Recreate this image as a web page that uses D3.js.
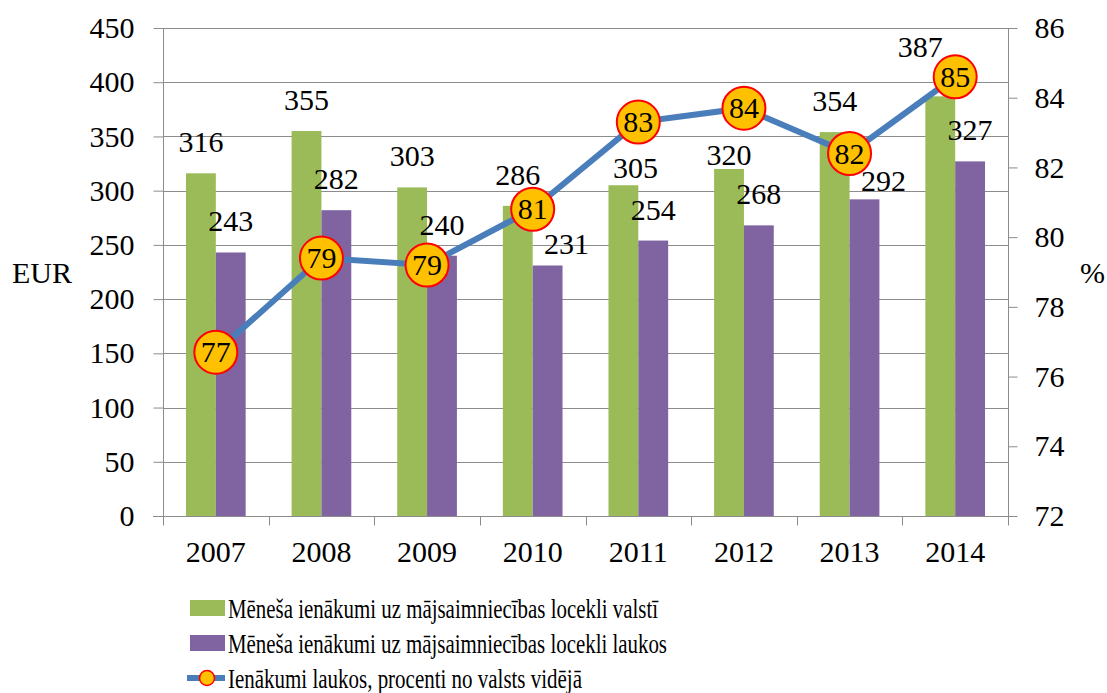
<!DOCTYPE html>
<html>
<head>
<meta charset="utf-8">
<script src="https://cdn.jsdelivr.net/npm/d3@7"></script>
<style>
  body { margin: 0; background: #fff; }
  text { font-family: 'Liberation Serif', serif !important; fill: #000; }
  .grid line { stroke: #8c8c8c; stroke-width: 1; }
  .axis path, .axis line { stroke: #8c8c8c; }
</style>
</head>
<body>
<svg id="chart" width="1107" height="693"></svg>
<script>
(function(){

  var years = ['2007', '2008', '2009', '2010', '2011', '2012', '2013', '2014'];
  var national = [316, 355, 303, 286, 305, 320, 354, 387];
  var rural = [243, 282, 240, 231, 254, 268, 292, 327];
  var percent = [76.7, 79.4, 79.2, 80.8, 83.3, 83.7, 82.4, 84.6];
  var percentLabels = ['77', '79', '79', '81', '83', '84', '82', '85'];
  var leftTicks = [0, 50, 100, 150, 200, 250, 300, 350, 400, 450];
  var rightTicks = [72, 74, 76, 78, 80, 82, 84, 86];
  var legendNames = [
    'Mēneša ienākumi uz mājsaimniecības locekli valstī',
    'Mēneša ienākumi uz mājsaimniecības locekli laukos',
    'Ienākumi laukos, procenti no valsts vidējā'
  ];

  // labels that were dragged aside in the original chart: [dx, dy] in px
  var natNudge = { '2011': [12, 14], '2012': [0, 17], '2014': [-20, -18] };
  var rurNudge = { '2010': [19, 10], '2013': [19, 13] };

  var W = 1107, H = 693;
  var margin = { top: 28, right: 99, bottom: 177, left: 163 };
  var width = W - margin.left - margin.right;
  var height = H - margin.top - margin.bottom;

  var green = '#9bbb59', purple = '#8064a2', blue = '#4a7ebb';

  var x = d3.scaleBand().domain(years).range([0, width]).paddingInner(0.435).paddingOuter(0.2175);
  var y = d3.scaleLinear().domain([0, 450]).range([height, 0]);
  var y2 = d3.scaleLinear().domain([72, 86]).range([height, 0]);
  var xc = d3.scaleBand().domain(years).range([0, width]);

  var root = d3.select('#chart');
  var svg = root.append('g')
      .attr('transform', 'translate(' + margin.left + ',' + margin.top + ')');

  // gridlines
  svg.append('g').attr('class', 'grid')
    .selectAll('line').data(leftTicks.slice(1)).enter().append('line')
      .attr('x1', 0).attr('x2', width)
      .attr('y1', function(d){ return Math.round(y(d)) + 0.5; })
      .attr('y2', function(d){ return Math.round(y(d)) + 0.5; });

  // left axis
  var yAxis = svg.append('g').attr('class', 'axis')
    .attr('transform', 'translate(0.5,0)')
    .call(d3.axisLeft(y).tickValues(leftTicks).tickSize(10).tickPadding(19));
  yAxis.select('.domain').attr('d', 'M0,0V' + height);

  // right axis
  var y2Axis = svg.append('g').attr('class', 'axis')
    .attr('transform', 'translate(' + (width + 0.5) + ',0)')
    .call(d3.axisRight(y2).tickValues(rightTicks).tickSize(9).tickPadding(17));
  y2Axis.select('.domain').attr('d', 'M0,0V' + height);

  svg.selectAll('.axis').attr('font-family', null).attr('font-size', null);

  // x axis with ticks at category boundaries
  var xAxis = svg.append('g').attr('class', 'axis')
    .attr('transform', 'translate(0,' + (height + 0.5) + ')');
  xAxis.append('line').attr('x1', -10).attr('x2', width + 9).attr('y1', 0).attr('y2', 0);
  xAxis.selectAll('line.tk').data(years.concat(['end'])).enter().append('line')
    .attr('class', 'tk')
    .attr('x1', function(d, i){ return Math.round(i * xc.bandwidth()) + 0.5; })
    .attr('x2', function(d, i){ return Math.round(i * xc.bandwidth()) + 0.5; })
    .attr('y1', 0).attr('y2', 9);
  xAxis.selectAll('text').data(years).enter().append('text')
    .attr('x', function(d){ return xc(d) + xc.bandwidth() / 2; })
    .attr('y', 45)
    .attr('text-anchor', 'middle')
    .text(function(d){ return d; });

  // bars
  var bw = x.bandwidth() / 2;
  var bars = svg.append('g');
  bars.selectAll('rect.nat').data(national).enter().append('rect')
    .attr('x', function(d, i){ return x(years[i]); })
    .attr('y', function(d){ return y(d); })
    .attr('width', bw)
    .attr('height', function(d){ return height - y(d); })
    .attr('fill', green);
  bars.selectAll('rect.rur').data(rural).enter().append('rect')
    .attr('x', function(d, i){ return x(years[i]) + bw; })
    .attr('y', function(d){ return y(d); })
    .attr('width', bw)
    .attr('height', function(d){ return height - y(d); })
    .attr('fill', purple);

  // bar value labels
  function nudge(map, i, k){ var n = map[years[i]]; return n ? n[k] : 0; }
  var labels = svg.append('g').attr('text-anchor', 'middle');
  labels.selectAll('text.nat').data(national).enter().append('text')
    .attr('x', function(d, i){ return x(years[i]) + bw / 2 + nudge(natNudge, i, 0); })
    .attr('y', function(d, i){ return y(d) - 21 + nudge(natNudge, i, 1); })
    .text(function(d){ return d; });
  labels.selectAll('text.rur').data(rural).enter().append('text')
    .attr('x', function(d, i){ return x(years[i]) + bw * 1.5 + nudge(rurNudge, i, 0); })
    .attr('y', function(d, i){ return y(d) - 21 + nudge(rurNudge, i, 1); })
    .text(function(d){ return d; });

  // percentage line
  var line = d3.line()
    .x(function(d, i){ return xc(years[i]) + xc.bandwidth() / 2; })
    .y(function(d){ return y2(d); });

  svg.append('path')
    .datum(percent)
    .attr('fill', 'none')
    .attr('stroke', blue)
    .attr('stroke-width', 6)
    .attr('d', line);

  var markers = svg.append('g').selectAll('g').data(percent).enter().append('g')
    .attr('transform', function(d, i){
      return 'translate(' + (xc(years[i]) + xc.bandwidth() / 2) + ',' + y2(d) + ')';
    });
  markers.append('circle')
    .attr('r', 21.5)
    .attr('fill', '#ffc000')
    .attr('stroke', '#ff0000')
    .attr('stroke-width', 2);
  markers.append('text')
    .attr('text-anchor', 'middle')
    .attr('dy', '0.34em')
    .text(function(d, i){ return percentLabels[i]; });

  // axis titles
  svg.append('text')
    .attr('x', 12 - margin.left).attr('y', 283 - margin.top)
    .text('EUR');
  svg.append('text')
    .attr('x', 1080 - margin.left).attr('y', 283 - margin.top)
    .text('%');

  // legend
  var legendTextWidths = [430, 439, 354];
  var legend = svg.append('g')
    .attr('transform', 'translate(' + (190 - margin.left) + ',' + (608 - margin.top) + ')');
  var items = legend.selectAll('g').data(legendNames).enter().append('g')
    .attr('transform', function(d, i){ return 'translate(0,' + (i * 35) + ')'; });
  items.filter(function(d, i){ return i < 2; }).append('rect')
    .attr('x', 0).attr('y', -8).attr('width', 35).attr('height', 16)
    .attr('fill', function(d, i){ return i === 0 ? green : purple; });
  var lastItem = items.filter(function(d, i){ return i === 2; });
  lastItem.append('line')
    .attr('x1', -3).attr('x2', 35).attr('y1', 0).attr('y2', 0)
    .attr('stroke', blue).attr('stroke-width', 6);
  lastItem.append('circle')
    .attr('cx', 17).attr('cy', 0).attr('r', 7.5)
    .attr('fill', '#ffc000').attr('stroke', '#ff0000').attr('stroke-width', 1.5);
  items.append('text')
    .attr('class', 'leg')
    .attr('x', 38).attr('y', 10)
    .attr('textLength', function(d, i){ return legendTextWidths[i]; })
    .attr('lengthAdjust', 'spacingAndGlyphs')
    .text(function(d){ return d; });

  root.selectAll('text')
    .attr('font-family', 'Liberation Serif')
    .attr('font-size', 30);
  root.selectAll('text.leg').attr('font-size', 28);

})();
</script>
</body>
</html>
